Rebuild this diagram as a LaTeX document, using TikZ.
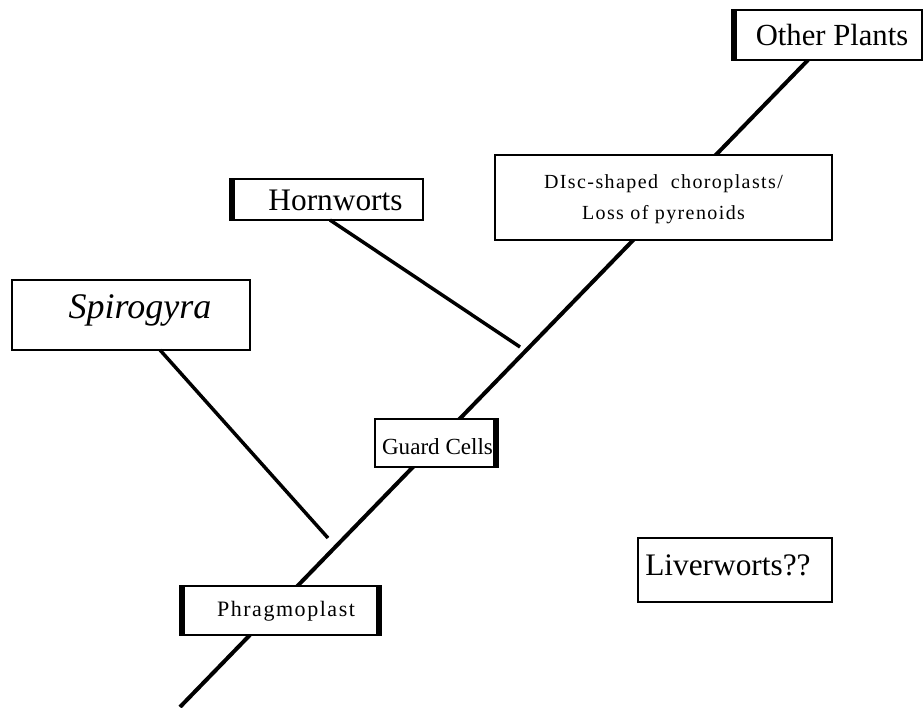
\documentclass[tikz,border=0pt]{standalone}
\usepackage{fontspec}
\setmainfont{Liberation Serif}
\newfontfamily\spacedfont[LetterSpace=7]{Liberation Serif}
\usetikzlibrary{positioning}

\tikzset{
  taxon/.style={draw=black, line width=1.5pt, fill=white, inner sep=0pt},
  caption/.style={inner sep=0pt},
  branch/.style={black, line width=2.6pt},
  edge/.style={black, line width=4pt},
}

\begin{document}
\begin{tikzpicture}[x=0.75pt, y=-0.75pt]
					\useasboundingbox (0,0) rectangle (924,707);

					% main line
					\coordinate (root) at (180,707);
					\coordinate (top) at (808,60);
					\coordinate (spjoin) at (328,538);
					\coordinate (hwjoin) at (520,347);
					\draw[branch, line width=3pt](root)--(top);

					% boxes on the line
					\node[taxon, minimum width=187pt*0.75, minimum height=50pt*0.75] (other) at (828.5,35){};
					\node[caption] (othertext) at (832,35){\fontsize{23}{24}\selectfont Other Plants};
					\node[taxon, minimum width=337pt*0.75, minimum height=85pt*0.75] (disc) at (663.5,197.5){};
					\node[caption, align=center, font=\spacedfont\fontsize{15}{18}\selectfont] (disctext) at (663.5,199){DIsc-shaped\ \ choroplasts/\\[5pt]Loss\ of\ pyrenoids};
					\node[taxon, minimum width=120pt*0.75, minimum height=48pt*0.75] (guard) at (435,443){};
					\node[caption] (guardtext) at (437.5,447){\fontsize{17.3}{18}\selectfont Guard Cells};
					\node[taxon, minimum width=195pt*0.75, minimum height=49pt*0.75] (phragmo) at (280.5,610.5){};
					\node[caption] (phragmotext) at (286,611){\spacedfont\fontsize{16.5}{18}\selectfont Phragmoplast};

					% side taxa
					\node[taxon, minimum width=190pt*0.75, minimum height=41pt*0.75] (horn) at (328,199.5){};
					\node[caption] (horntext) at (335.5,200){\fontsize{23.5}{24}\selectfont Hornworts};
					\node[taxon, minimum width=238pt*0.75, minimum height=70pt*0.75] (spiro) at (131,315){};
					\node[caption] (spirotext) at (140,310){\fontsize{27}{30}\selectfont\itshape Spirogyra};
					\node[taxon, minimum width=194pt*0.75, minimum height=64pt*0.75] (liver) at (735,570){};
					\node[caption, anchor=west] (livertext) at (645,565){\fontsize{23.5}{24}\selectfont Liverworts??};

					% side branches
					\draw[branch](330,220)--(hwjoin);
					\draw[branch](160,350)--(spjoin);

					% heavier box edges
					\draw[edge](other.north west)--(other.south west);
					\draw[edge](horn.north west)--(horn.south west);
					\draw[edge](phragmo.north west)--(phragmo.south west);
					\draw[edge](phragmo.north east)--(phragmo.south east);
					\draw[edge](guard.north east)--(guard.south east);
\end{tikzpicture}
\end{document}
